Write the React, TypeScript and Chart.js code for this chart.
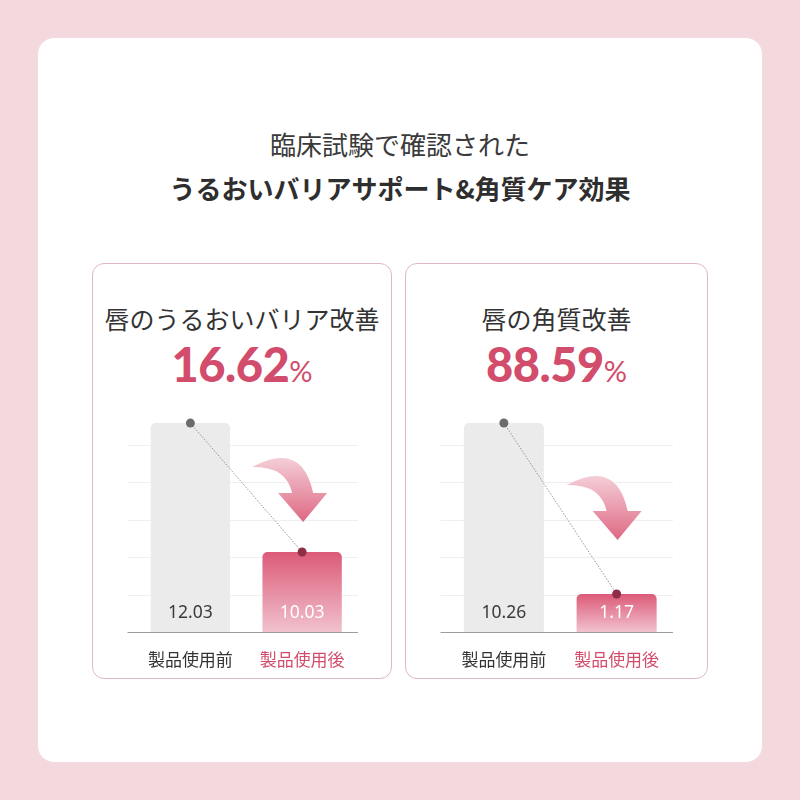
import React, { useEffect, useRef } from "react";
import { Chart, registerables } from "chart.js";

Chart.register(...registerables);

const categories = ["製品使用前", "製品使用後"];
const moistureValues = [12.03, 10.03];
const keratinValues = [10.26, 1.17];
const panelTitles = ["唇のうるおいバリア改善", "唇の角質改善"];
const improvementRates = ["16.62", "88.59"];
const moistureAxisRange = [8.79, 12.27];
const keratinAxisRange = [-0.85, 11.08];
const gridSteps = 6;
const headingLines = ["臨床試験で確認された", "うるおいバリアサポート&角質ケア効果"];

const PINK = "#d24c6b";
const JP = '"Noto Sans CJK JP", "Noto Sans", sans-serif';

const decorPlugin = {
  id: "decor",
  beforeDatasetsDraw(chart: any) {
    const { ctx, chartArea: ca, scales } = chart;
    ctx.save();
    ctx.lineWidth = 1;
    ctx.strokeStyle = "#efefef";
    for (let i = 1; i < gridSteps; i++) {
      const y = Math.round(scales.g.getPixelForValue(i)) + 0.5;
      ctx.beginPath();
      ctx.moveTo(ca.left - 7, y);
      ctx.lineTo(ca.right, y);
      ctx.stroke();
    }
    ctx.restore();
  },
  afterDatasetsDraw(chart: any, _args: any, opts: any) {
    const { ctx, chartArea: ca } = chart;
    const barMeta = chart.getDatasetMeta(0);
    ctx.save();
    ctx.strokeStyle = "#9c9c9c";
    ctx.lineWidth = 1;
    const by = Math.round(ca.bottom) + 0.5;
    ctx.beginPath();
    ctx.moveTo(ca.left - 7, by);
    ctx.lineTo(ca.right, by);
    ctx.stroke();

    // arrow
    const b2 = barMeta.data[1];
    const tx = b2.x + 1;
    const ty = ca.bottom - opts.arrowRise;
    const grad = ctx.createLinearGradient(0, ty - 62, 0, ty);
    grad.addColorStop(0, "rgba(243,200,210,0.95)");
    grad.addColorStop(1, "rgba(220,96,124,0.95)");
    ctx.fillStyle = grad;
    ctx.beginPath();
    ctx.moveTo(tx - 51, ty - 55);
    ctx.quadraticCurveTo(tx - 1, ty - 82, tx + 10, ty - 29);
    ctx.lineTo(tx + 24, ty - 29);
    ctx.lineTo(tx, ty);
    ctx.lineTo(tx - 25, ty - 29);
    ctx.lineTo(tx - 11, ty - 29);
    ctx.quadraticCurveTo(tx - 17, ty - 56, tx - 51, ty - 55);
    ctx.closePath();
    ctx.fill();

    // value labels
    ctx.font = '17.5px "Noto Sans", "DejaVu Sans", sans-serif';
    ctx.textAlign = "center";
    ctx.textBaseline = "middle";
    const vals = chart.data.datasets[0].data;
    barMeta.data.forEach((el: any, i: number) => {
      ctx.fillStyle = i === 0 ? "#3a3a3a" : "#ffffff";
      ctx.fillText(String(vals[i]), el.x, ca.bottom - 18.5);
    });
    ctx.restore();
  },
};

function BarPanel({ values, range, arrowRise, left, top, width }: any) {
  const ref = useRef<HTMLCanvasElement>(null);
  useEffect(() => {
    const chart = new Chart(ref.current as HTMLCanvasElement, {
      type: "bar",
      data: {
        labels: categories,
        datasets: [
          {
            type: "bar",
            data: values,
            base: range[0],
            order: 2,
            yAxisID: "y",
            backgroundColor: (c: any) => {
              if (c.dataIndex === 0) return "#ebebeb";
              const ch = c.chart;
              const ca = ch.chartArea;
              if (!ca) return "#dd5c79";
              const yTop = ch.scales.y.getPixelForValue(values[1]);
              const g = ch.ctx.createLinearGradient(0, yTop, 0, ca.bottom);
              g.addColorStop(0, "#dc5a78");
              g.addColorStop(1, "#f1c2ce");
              return g;
            },
            borderRadius: { topLeft: 5, topRight: 5, bottomLeft: 0, bottomRight: 0 },
            borderSkipped: "bottom",
            categoryPercentage: 1,
            barPercentage: 0.71,
          } as any,
          {
            type: "line",
            data: values,
            order: 1,
            yAxisID: "y",
            borderColor: "#8a8a8a",
            borderWidth: 0.9,
            borderDash: [1.5, 1.5],
            pointRadius: 4.5,
            pointBorderWidth: 0,
            pointBackgroundColor: ["#6b6b6b", "#8e2e47"],
            fill: false,
          } as any,
        ],
      },
      options: {
        animation: false,
        responsive: false,
        devicePixelRatio: 1,
        events: [],
        layout: { padding: { left: 42.5, right: 34, top: 12.6, bottom: 0 } },
        plugins: {
          legend: { display: false },
          tooltip: { enabled: false },
          decor: { arrowRise },
        } as any,
        scales: {
          x: {
            grid: { display: false, drawTicks: false },
            border: { display: false },
            ticks: {
              padding: 17,
              color: ["#333333", PINK] as any,
              font: { family: JP, size: 17, lineHeight: 1.2 },
            },
            afterFit: (s: any) => {
              s.height = 46;
            },
          },
          y: { display: false, min: range[0], max: range[1] },
          g: { display: false, min: 0, max: gridSteps, position: "left" },
        },
      },
      plugins: [decorPlugin],
    });
    return () => chart.destroy();
  }, []);
  return (
    <canvas
      ref={ref}
      width={width}
      height={283}
      style={{ position: "absolute", left, top, width, height: 283 }}
    />
  );
}

function Panel({ left, width, title, rate }: any) {
  return (
    <>
      <div
        style={{
          position: "absolute",
          left,
          top: 263,
          width,
          height: 416,
          boxSizing: "border-box",
          border: "1px solid #dfb8c2",
          borderRadius: 12,
          background: "#ffffff",
        }}
      />
      <div
        style={{
          position: "absolute",
          left,
          width,
          top: 300,
          height: 36,
          lineHeight: "36px",
          textAlign: "center",
          fontFamily: JP,
          fontSize: 25,
          color: "#333333",
          whiteSpace: "nowrap",
        }}
      >
        {title}
      </div>
      <div
        style={{
          position: "absolute",
          left,
          width,
          top: 341,
          height: 47,
          lineHeight: "47px",
          textAlign: "center",
          color: PINK,
          whiteSpace: "nowrap",
          fontFamily: "Lato, sans-serif",
        }}
      >
        <span style={{ fontSize: 47, fontWeight: 900, letterSpacing: -0.5 }}>{rate}</span>
        <span style={{ fontSize: 29, fontWeight: 400 }}>%</span>
      </div>
    </>
  );
}

export default function App() {
  return (
    <div
      style={{
        position: "absolute",
        left: 0,
        top: 0,
        width: 800,
        height: 800,
        background: "#f3d9dd",
        overflow: "hidden",
      }}
    >
      <div
        style={{
          position: "absolute",
          left: 38,
          top: 38,
          width: 724,
          height: 724,
          background: "#ffffff",
          borderRadius: 16,
        }}
      />
      <div
        style={{
          position: "absolute",
          left: 0,
          width: 800,
          top: 126,
          height: 36,
          lineHeight: "36px",
          textAlign: "center",
          fontFamily: JP,
          fontSize: 26,
          color: "#3a3a3a",
        }}
      >
        {headingLines[0]}
      </div>
      <div
        style={{
          position: "absolute",
          left: 0,
          width: 800,
          top: 170,
          height: 36,
          lineHeight: "36px",
          textAlign: "center",
          fontFamily: JP,
          fontSize: 26,
          fontWeight: 700,
          color: "#2e2e2e",
        }}
      >
        {headingLines[1]}
      </div>
      <Panel left={92} width={300} title={panelTitles[0]} rate={improvementRates[0]} />
      <Panel left={405} width={303} title={panelTitles[1]} rate={improvementRates[1]} />
      <BarPanel values={moistureValues} range={moistureAxisRange} arrowRise={110} left={92} top={395} width={300} />
      <BarPanel values={keratinValues} range={keratinAxisRange} arrowRise={92} left={405} top={395} width={302} />
    </div>
  );
}
